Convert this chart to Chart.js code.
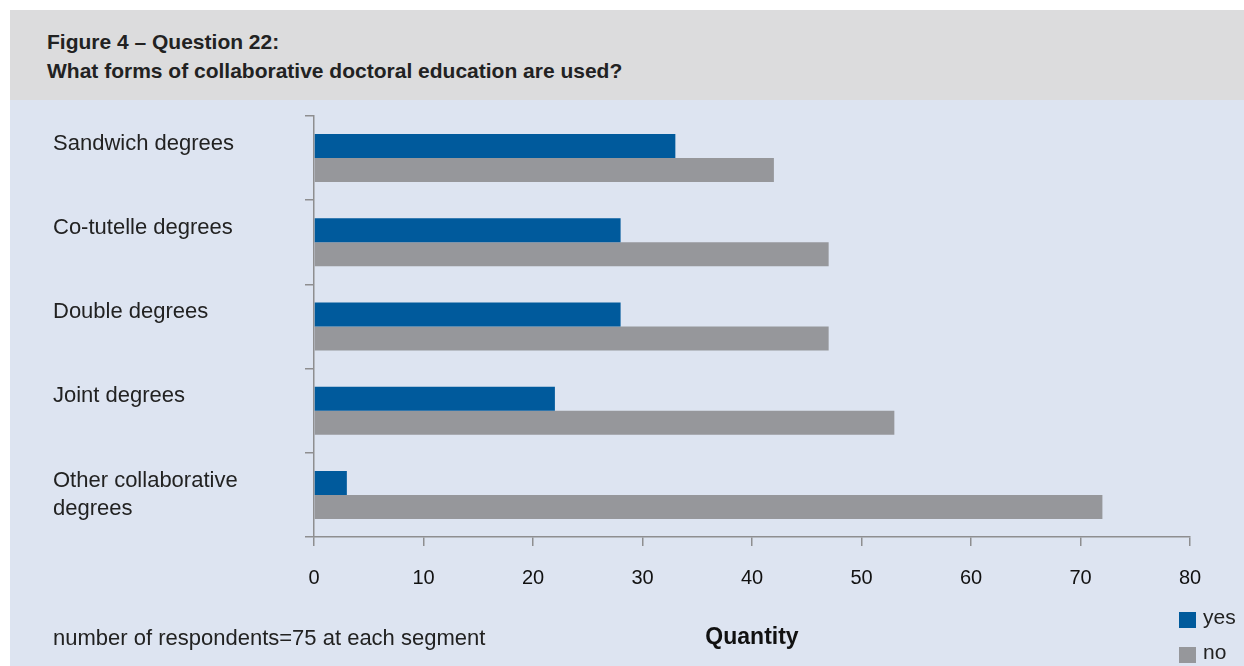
<!DOCTYPE html>
<html>
<head>
    <title>Figure 4 – Question 22</title>
    <style>
        body { margin: 0; background: #fff; font-family: "Liberation Sans", Arial, sans-serif; }
        #frame { position: absolute; left: 10px; top: 10px; width: 1234px; height: 656px; }
        #header {
            position: absolute; left: 0; top: 0; width: 1234px; height: 90px;
            background: #dcdcdd; color: #222;
        }
        #header div { position: absolute; left: 37px; font-weight: bold; font-size: 21px; white-space: nowrap; }
        #panel { position: absolute; left: 0; top: 90px; width: 1234px; height: 566px; background: #dde4f1; }
        #panel canvas { position: absolute; left: 0; top: 0; }
        #note { position: absolute; left: 43px; top: 525px; font-size: 22px; color: #222; white-space: nowrap; }
        #legend { position: absolute; left: 1169px; top: 500px; font-size: 21px; color: #222; }
        .item { height: 35px; position: relative; }
        .box { position: absolute; left: 0; top: 12px; width: 17px; height: 16px; }
        .item span { position: absolute; left: 24px; top: 5px; }
    </style>
</head>
<body>
<div id="frame">
    <div id="header">
        <div style="top: 20px">Figure 4 – Question 22:</div>
        <div style="top: 49px">What forms of collaborative doctoral education are used?</div>
    </div>
    <div id="panel">
        <canvas id="chart" width="1234" height="566"></canvas>
        <div id="note">number of respondents=75 at each segment</div>
        <div id="legend"></div>
    </div>
</div>

<script src="https://cdn.jsdelivr.net/npm/chart.js"></script>
<script>
    // categories (line breaks as in the figure)
    const categories = [
        ['Sandwich degrees', ''],
        ['Co-tutelle degrees', ''],
        ['Double degrees', ''],
        ['Joint degrees', ''],
        ['Other collaborative', 'degrees']
    ];
    const yesValues = [33, 28, 28, 22, 3];
    const noValues = [42, 47, 47, 53, 72];
    const xTicks = [0, 10, 20, 30, 40, 50, 60, 70, 80];

    const axisGray = '#8e8e90';

    const chart = new Chart(document.getElementById('chart'), {
        type: 'bar',
        data: {
            labels: categories,
            datasets: [
                { label: 'yes', data: yesValues, backgroundColor: '#005a9c' },
                { label: 'no', data: noValues, backgroundColor: '#96979b' }
            ]
        },
        options: {
            indexAxis: 'y',
            responsive: false,
            animation: false,
            layout: { padding: { left: 43, top: 16, right: 54, bottom: 0 } },
            datasets: { bar: { categoryPercentage: 0.57, barPercentage: 1.0 } },
            plugins: { legend: { display: false }, tooltip: { enabled: false } },
            scales: {
                x: {
                    min: 0, max: 80,
                    afterBuildTicks: s => { s.ticks = xTicks.map(v => ({ value: v })); },
                    afterFit: s => { s.height = 129; s.paddingLeft = 0; s.paddingRight = 0; },
                    border: { color: axisGray, width: 1.5 },
                    grid: { drawOnChartArea: false, tickLength: 9, color: axisGray, lineWidth: 1.5 },
                    ticks: {
                        padding: 20, color: '#111',
                        font: { family: '"Liberation Sans Narrow", "Liberation Sans", sans-serif', size: 20 }
                    },
                    title: {
                        display: true, text: 'Quantity', color: '#111',
                        font: { family: '"Liberation Sans", sans-serif', size: 23, weight: 'bold' },
                        padding: { top: 0, bottom: 15 }
                    }
                },
                y: {
                    afterFit: s => { s.width = 261; s.paddingTop = 0; s.paddingBottom = 0; },
                    border: { color: axisGray, width: 1.5 },
                    grid: { drawOnChartArea: false, tickLength: 9, color: axisGray, lineWidth: 1.5 },
                    ticks: {
                        crossAlign: 'far', color: '#222',
                        font: { family: '"Liberation Sans", sans-serif', size: 22, lineHeight: 1.3 }
                    }
                }
            }
        }
    });

    // legend built from the datasets
    const legend = document.getElementById('legend');
    chart.data.datasets.forEach(ds => {
        const item = document.createElement('div');
        item.className = 'item';
        item.innerHTML = '<div class="box" style="background:' + ds.backgroundColor + '"></div><span>' + ds.label + '</span>';
        legend.appendChild(item);
    });
</script>
</body>
</html>
